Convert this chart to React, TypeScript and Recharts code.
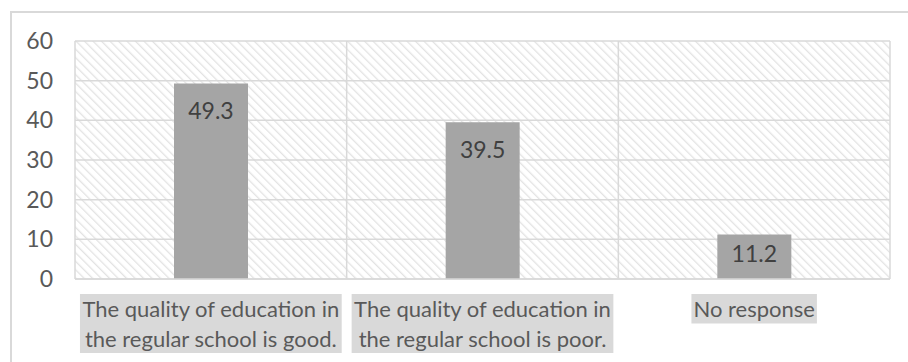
import { BarChart, Bar, XAxis, YAxis, CartesianGrid, LabelList } from 'recharts';

const categories = [
  'The quality of education in\nthe regular school is good.',
  'The quality of education in\nthe regular school is poor.',
  'No response',
];
const percentages = [49.3, 39.5, 11.2];
const yTicks = [0, 10, 20, 30, 40, 50, 60];

const data = categories.map((name, i) => ({ name, value: percentages[i] }));

const FONT = 'Lato, "Open Sans", sans-serif';
const FS = 22;
const TEXT = '#595959';
const GRID = '#d9d9d9';

let ctx: CanvasRenderingContext2D | null = null;
function measure(s: string) {
  if (!ctx) ctx = document.createElement('canvas').getContext('2d');
  if (!ctx) return s.length * FS * 0.45;
  ctx.font = `${FS}px Lato`;
  return ctx.measureText(s).width;
}

const XTick = ({ x, y, payload }: any) => {
  const lines: string[] = String(payload.value).split('\n');
  const lh = 29.5;
  const w = Math.max(...lines.map(measure)) + 4;
  const top = y + 15;
  return (
    <g>
      <rect x={x - w / 2} y={top} width={w} height={lines.length * lh} fill="#d9d9d9" />
      {lines.map((l, i) => (
        <text
          key={i}
          x={x}
          y={top + lh * i + lh / 2}
          textAnchor="middle"
          dominantBaseline="central"
          fontFamily={FONT}
          fontSize={FS}
          fill={TEXT}
        >
          {l}
        </text>
      ))}
    </g>
  );
};

const BarLabel = ({ x, y, width, height, value }: any) => (
  <text
    x={x + width / 2}
    y={y + (height > 60 ? 27 : 18)} // short bar gets its label closer to the top
    textAnchor="middle"
    dominantBaseline="central"
    fontFamily={FONT}
    fontSize={FS + 1}
    fill="#404040"
  >
    {value}
  </text>
);

export default function App() {
  return (
    <div style={{ position: 'fixed', left: 0, top: 0, width: 908, height: 362, background: '#fff', overflow: 'hidden' }}>
      <svg width={0} height={0} style={{ position: 'absolute' }}>
        <defs>
          <pattern id="hatch" width={6} height={6} patternUnits="userSpaceOnUse" patternTransform="rotate(-45)">
            <rect width={6} height={6} fill="#ffffff" />
            <line x1={0} y1={0} x2={0} y2={6} stroke="#e3e3e3" strokeWidth={2.6} />
          </pattern>
        </defs>
      </svg>
      <div
        style={{
          position: 'absolute',
          left: 10,
          top: 11,
          width: 1000,
          height: 1000,
          border: '2px solid #d9d9d9',
          boxSizing: 'border-box',
        }}
      />
      <div style={{ position: 'absolute', left: 0, top: 0 }}>
        <BarChart width={908} height={362} data={data} margin={{ top: 41, right: 18, bottom: 0, left: 0 }}>
          <CartesianGrid
            stroke={GRID}
            strokeWidth={1.5}
            fill="url(#hatch)"
            verticalCoordinatesGenerator={({ offset }: any) =>
              [0, 1, 2, 3].map((i) => offset.left + (i * offset.width) / categories.length)
            }
          />
          <XAxis
            dataKey="name"
            height={83}
            axisLine={{ stroke: GRID, strokeWidth: 1.5 }}
            tickLine={false}
            tickSize={0}
            tickMargin={0}
            interval={0}
            tick={<XTick />}
          />
          <YAxis
            width={75}
            domain={[0, 60]}
            ticks={yTicks}
            axisLine={false}
            tickLine={false}
            tickSize={22}
            tickMargin={0}
            tick={{ fontFamily: FONT, fontSize: FS + 1, fill: TEXT }}
          />
          <Bar dataKey="value" fill="#a5a5a5" barSize={74} isAnimationActive={false}>
            <LabelList dataKey="value" content={<BarLabel />} />
          </Bar>
        </BarChart>
      </div>
    </div>
  );
}
